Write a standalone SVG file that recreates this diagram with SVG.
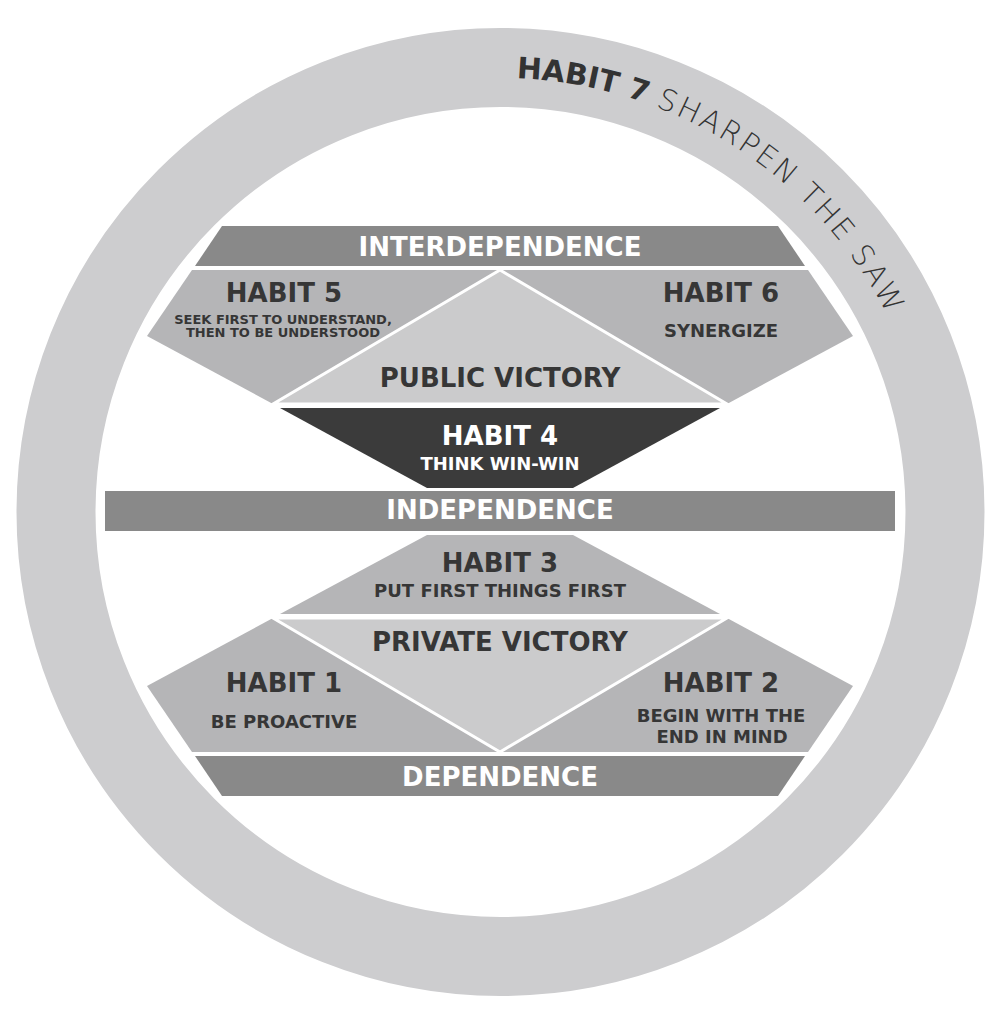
<svg xmlns="http://www.w3.org/2000/svg" width="999" height="1021" viewBox="0 0 999 1021">
<style>
.band{fill:#898989}
.habit{fill:#b5b5b7}
.vic{fill:#cbcbcc;stroke:#ffffff;stroke-width:3;stroke-linejoin:miter}
.dark{fill:#3b3b3b}
text{font-family:"DejaVu Sans","Liberation Sans",sans-serif;font-weight:bold;text-anchor:middle}
.big{font-size:26px}
.sub{font-size:18px}
.tiny{font-size:13px}
.w{fill:#ffffff}
.d{fill:#363636}
</style>
<defs>
<path id="arc" d="M 500.5 78 A 434 434 0 0 1 934.5 512"/>
</defs>
<rect width="999" height="1021" fill="#ffffff"/>
<g id="habit7">
<circle cx="500.5" cy="512" r="444.5" fill="none" stroke="#cdcdcf" stroke-width="79"/>
<text style="text-anchor:start;font-size:29.5px" fill="#333333"><textPath href="#arc" startOffset="16">HABIT 7 <tspan style="font-weight:200;letter-spacing:2.4px">SHARPEN THE SAW</tspan></textPath></text>
</g>
<g id="interdependence">
<polygon class="band" points="222,226 778,226 805,266 195,266"/>
<text class="big w" x="500" y="256">INTERDEPENDENCE</text>
</g>
<g id="habit5">
<polygon class="habit" points="192,270 500,270 273,404 147,336"/>
<text class="big d" x="284" y="302">HABIT 5</text>
<text class="tiny d" x="283" y="324">SEEK FIRST TO UNDERSTAND,</text>
<text class="tiny d" x="283" y="337">THEN TO BE UNDERSTOOD</text>
</g>
<g id="habit6">
<polygon class="habit" points="500,270 808,270 853,336 727,404"/>
<text class="big d" x="721" y="302">HABIT 6</text>
<text class="sub d" x="721" y="337">SYNERGIZE</text>
</g>
<g id="public-victory">
<polygon class="vic" points="500,270 727,404 273,404"/>
<text class="big d" x="500" y="387">PUBLIC VICTORY</text>
</g>
<g id="habit4">
<polygon class="dark" points="280,408 720,408 573,488 427,488"/>
<text class="big w" x="500" y="445">HABIT 4</text>
<text class="sub w" x="500" y="470">THINK WIN-WIN</text>
</g>
<g id="independence">
<rect class="band" x="105" y="491" width="790" height="40"/>
<text class="big w" x="500" y="519">INDEPENDENCE</text>
</g>
<g id="habit3">
<polygon class="habit" points="427,535 573,535 720,614 280,614"/>
<text class="big d" x="500" y="572">HABIT 3</text>
<text class="sub d" x="500" y="597">PUT FIRST THINGS FIRST</text>
</g>
<g id="habit1">
<polygon class="habit" points="273,618 500,752 192,752 147,686"/>
<text class="big d" x="284" y="692">HABIT 1</text>
<text class="sub d" x="284" y="728">BE PROACTIVE</text>
</g>
<g id="habit2">
<polygon class="habit" points="727,618 853,686 808,752 500,752"/>
<text class="big d" x="721" y="692">HABIT 2</text>
<text class="sub d" x="721" y="722">BEGIN WITH THE</text>
<text class="sub d" x="722" y="743">END IN MIND</text>
</g>
<g id="private-victory">
<polygon class="vic" points="273,618 727,618 500,752"/>
<text class="big d" x="500" y="651">PRIVATE VICTORY</text>
</g>
<g id="dependence">
<polygon class="band" points="195,756 805,756 778,796 222,796"/>
<text class="big w" x="500" y="786">DEPENDENCE</text>
</g>
<g id="connectors"></g>
</svg>
